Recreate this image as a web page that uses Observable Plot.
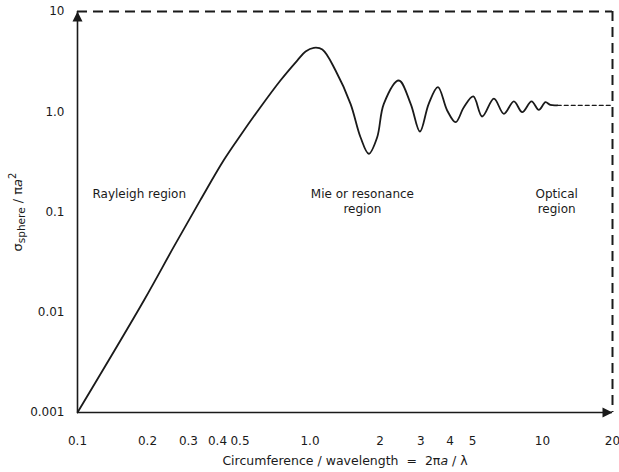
<!DOCTYPE html>
<html><head><meta charset="utf-8">
<script src="https://cdn.jsdelivr.net/npm/d3@7"></script>
<script src="https://cdn.jsdelivr.net/npm/@observablehq/plot@0.6"></script>
<style>body{margin:0;background:#fff}</style>
</head><body><div id="chart"></div>
<script>
// Tick values and labels
const xTicks = [0.1, 0.2, 0.3, 0.4, 0.5, 0.8, 1, 2, 3, 4, 5, 6, 8, 10, 20];
const xTickLabels = ["0.1","0.2","0.3","0.4","0.5","0.8","1.0","2","3","4","5","6","8","10","20"];
const yTicks = [0.001, 0.01, 0.1, 1, 10];
const yTickLabels = ["0.001","0.01","0.1","1.0","10"];

// Curve: circumference/wavelength vs normalized cross section
const sizeParam = [0.1, 0.193, 0.259, 0.338, 0.426, 0.502, 0.612, 0.746, 0.881, 0.957, 1.038, 1.13, 1.288, 1.494, 1.649, 1.79, 1.945, 2.077, 2.41, 2.71, 2.97, 3.24, 3.55, 3.89, 4.23, 4.59, 5.04, 5.5, 6.18, 6.82, 7.53, 8.18, 8.97, 9.64, 10.3, 10.8, 11.57];
const crossSection = [0.001, 0.0131, 0.0446, 0.132, 0.33, 0.58, 1.11, 2.05, 3.24, 3.99, 4.34, 4.18, 2.58, 1.2, 0.557, 0.381, 0.557, 1.2, 2.05, 1.2, 0.635, 1.2, 1.76, 1.03, 0.787, 1.11, 1.42, 0.897, 1.35, 0.954, 1.27, 0.99, 1.27, 1.045, 1.245, 1.17, 1.16];

// Optical-region asymptote (dashed)
const opticalX = [11.57, 20];
const opticalY = [1.16, 1.16];

// Region names
const regionNames = ["Rayleigh region", "Mie or resonance\nregion", "Optical\nregion"];

const xLabelMap = new Map(xTicks.map((d, i) => [d, xTickLabels[i]]));
const yLabelMap = new Map(yTicks.map((d, i) => [d, yTickLabels[i]]));
const curve = sizeParam.map((x, i) => ({x, y: crossSection[i]}));
const optical = opticalX.map((x, i) => ({x, y: opticalY[i]}));

const arrowUp = {draw(ctx) { ctx.moveTo(0, 0); ctx.lineTo(-5, 10); ctx.lineTo(5, 10); ctx.closePath(); }};
const arrowRight = {draw(ctx) { ctx.moveTo(0, 0); ctx.lineTo(-10, -5); ctx.lineTo(-10, 5); ctx.closePath(); }};

const font = "'DejaVu Sans', sans-serif";
const ink = "#1a1a1a";

const chart = Plot.plot({
  width: 619, height: 472,
  marginLeft: 77, marginRight: 7, marginTop: 11, marginBottom: 60,
  style: {fontFamily: font, fontSize: "12px", color: ink, background: "white"},
  x: {type: "log", domain: [0.1, 20]},
  y: {type: "log", domain: [0.001, 10]},
  marks: [
    Plot.axisX({ticks: xTicks, tickFormat: d => xLabelMap.get(d), tickSize: 0, tickPadding: 24, label: null, fontSize: 12}),
    Plot.axisY({ticks: yTicks, tickFormat: d => yLabelMap.get(d), tickSize: 0, tickPadding: 13, label: null, fontSize: 12}),
    Plot.ruleY([10], {stroke: ink, strokeWidth: 2, strokeDasharray: "10,6"}),
    Plot.ruleX([20], {stroke: ink, strokeWidth: 2, strokeDasharray: "10,6"}),
    Plot.ruleX([0.1], {stroke: ink, strokeWidth: 1.6}),
    Plot.ruleY([0.001], {stroke: ink, strokeWidth: 1.6}),
    Plot.dot([{x: 0.1, y: 10}], {x: "x", y: "y", symbol: arrowUp, fill: ink, stroke: "none"}),
    Plot.dot([{x: 20, y: 0.001}], {x: "x", y: "y", symbol: arrowRight, fill: ink, stroke: "none"}),
    Plot.line(curve, {x: "x", y: "y", curve: "catmull-rom", stroke: ink, strokeWidth: 1.8}),
    Plot.line(optical, {x: "x", y: "y", stroke: ink, strokeWidth: 1.3, strokeDasharray: "4,3"}),
    Plot.text([regionNames[0]], {x: 0.116, y: 0.15, text: d => d, textAnchor: "start", fontSize: 12, fill: ink}),
    Plot.text([regionNames[1]], {x: 1.68, y: 0.13, text: d => d, textAnchor: "middle", lineHeight: 1.25, fontSize: 12, fill: ink}),
    Plot.text([regionNames[2]], {x: 11.5, y: 0.13, text: d => d, textAnchor: "middle", lineHeight: 1.25, fontSize: 12, fill: ink})
  ]
});

const svg = d3.select(chart);
// Y-axis title
const yt = svg.append("text")
  .attr("transform", "translate(22,212) rotate(-90)")
  .attr("text-anchor", "middle")
  .attr("font-family", font).attr("font-size", 13).attr("fill", ink);
yt.append("tspan").text("σ");
yt.append("tspan").attr("font-size", 10.5).attr("dy", 3).text("sphere");
yt.append("tspan").attr("dy", -3).text(" / π");
yt.append("tspan").attr("font-style", "italic").text("a");
yt.append("tspan").attr("font-size", 10).attr("dy", -6).text("2");

// X-axis title
const xt = svg.append("text")
  .attr("x", 345).attr("y", 465)
  .attr("text-anchor", "middle")
  .attr("font-family", font).attr("font-size", 12.5).attr("fill", ink);
xt.append("tspan").text("Circumference / wavelength  =  2π");
xt.append("tspan").attr("font-style", "italic").text("a");
xt.append("tspan").text(" / λ");

document.getElementById("chart").append(chart);
</script>
</body></html>
